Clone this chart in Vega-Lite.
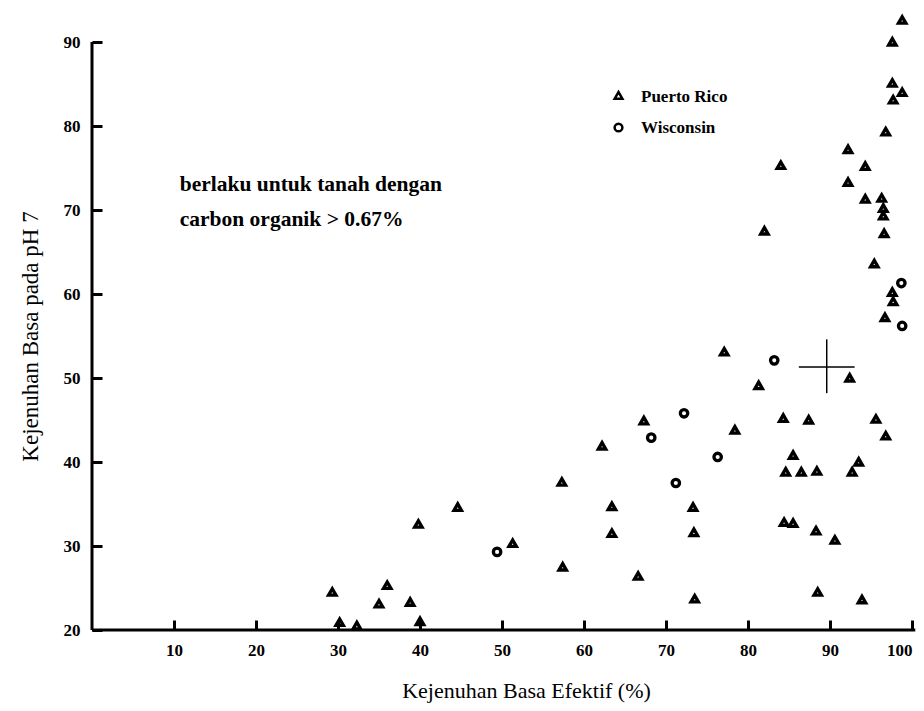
{
  "$schema": "https://vega.github.io/schema/vega-lite/v6.json",
  "width": 820,
  "height": 588,
  "autosize": {"type": "none"},
  "padding": {"left": 92, "top": 42, "right": 12, "bottom": 81},
  "background": "white",
  "config": {
    "view": {"stroke": null},
    "font": "Liberation Serif",
    "axis": {
      "grid": false,
      "domain": false,
      "ticks": true,
      "tickColor": "black",
      "tickWidth": 3,
      "tickSize": 10,
      "labelFont": "Liberation Serif",
      "labelFontWeight": "bold",
      "labelFontSize": 17,
      "labelColor": "black",
      "titleFont": "Liberation Serif",
      "titleFontWeight": "normal",
      "titleColor": "black"
    }
  },
  "layer": [
    {
      "data": {"values": [
        {"efektif": 98.8, "ph7": 92.5, "lokasi": "Puerto Rico"},
        {"efektif": 97.6, "ph7": 89.9, "lokasi": "Puerto Rico"},
        {"efektif": 97.6, "ph7": 85.0, "lokasi": "Puerto Rico"},
        {"efektif": 98.8, "ph7": 83.9, "lokasi": "Puerto Rico"},
        {"efektif": 97.7, "ph7": 83.0, "lokasi": "Puerto Rico"},
        {"efektif": 96.8, "ph7": 79.2, "lokasi": "Puerto Rico"},
        {"efektif": 92.2, "ph7": 77.1, "lokasi": "Puerto Rico"},
        {"efektif": 84.0, "ph7": 75.2, "lokasi": "Puerto Rico"},
        {"efektif": 94.3, "ph7": 75.1, "lokasi": "Puerto Rico"},
        {"efektif": 92.2, "ph7": 73.2, "lokasi": "Puerto Rico"},
        {"efektif": 94.3, "ph7": 71.2, "lokasi": "Puerto Rico"},
        {"efektif": 96.3, "ph7": 71.3, "lokasi": "Puerto Rico"},
        {"efektif": 96.5, "ph7": 70.1, "lokasi": "Puerto Rico"},
        {"efektif": 96.5, "ph7": 69.2, "lokasi": "Puerto Rico"},
        {"efektif": 82.0, "ph7": 67.4, "lokasi": "Puerto Rico"},
        {"efektif": 96.6, "ph7": 67.1, "lokasi": "Puerto Rico"},
        {"efektif": 95.4, "ph7": 63.5, "lokasi": "Puerto Rico"},
        {"efektif": 97.6, "ph7": 60.1, "lokasi": "Puerto Rico"},
        {"efektif": 97.7, "ph7": 59.0, "lokasi": "Puerto Rico"},
        {"efektif": 96.7, "ph7": 57.1, "lokasi": "Puerto Rico"},
        {"efektif": 77.1, "ph7": 53.0, "lokasi": "Puerto Rico"},
        {"efektif": 81.3, "ph7": 49.0, "lokasi": "Puerto Rico"},
        {"efektif": 92.4, "ph7": 49.9, "lokasi": "Puerto Rico"},
        {"efektif": 67.3, "ph7": 44.8, "lokasi": "Puerto Rico"},
        {"efektif": 78.4, "ph7": 43.7, "lokasi": "Puerto Rico"},
        {"efektif": 84.3, "ph7": 45.1, "lokasi": "Puerto Rico"},
        {"efektif": 87.4, "ph7": 44.9, "lokasi": "Puerto Rico"},
        {"efektif": 95.6, "ph7": 45.0, "lokasi": "Puerto Rico"},
        {"efektif": 96.8, "ph7": 43.0, "lokasi": "Puerto Rico"},
        {"efektif": 62.2, "ph7": 41.8, "lokasi": "Puerto Rico"},
        {"efektif": 85.5, "ph7": 40.7, "lokasi": "Puerto Rico"},
        {"efektif": 84.6, "ph7": 38.7, "lokasi": "Puerto Rico"},
        {"efektif": 86.5, "ph7": 38.7, "lokasi": "Puerto Rico"},
        {"efektif": 88.4, "ph7": 38.8, "lokasi": "Puerto Rico"},
        {"efektif": 93.5, "ph7": 39.9, "lokasi": "Puerto Rico"},
        {"efektif": 92.7, "ph7": 38.7, "lokasi": "Puerto Rico"},
        {"efektif": 63.4, "ph7": 34.6, "lokasi": "Puerto Rico"},
        {"efektif": 73.3, "ph7": 34.5, "lokasi": "Puerto Rico"},
        {"efektif": 63.4, "ph7": 31.4, "lokasi": "Puerto Rico"},
        {"efektif": 73.4, "ph7": 31.5, "lokasi": "Puerto Rico"},
        {"efektif": 84.4, "ph7": 32.7, "lokasi": "Puerto Rico"},
        {"efektif": 85.5, "ph7": 32.6, "lokasi": "Puerto Rico"},
        {"efektif": 88.3, "ph7": 31.7, "lokasi": "Puerto Rico"},
        {"efektif": 90.6, "ph7": 30.6, "lokasi": "Puerto Rico"},
        {"efektif": 66.6, "ph7": 26.3, "lokasi": "Puerto Rico"},
        {"efektif": 73.5, "ph7": 23.6, "lokasi": "Puerto Rico"},
        {"efektif": 88.5, "ph7": 24.4, "lokasi": "Puerto Rico"},
        {"efektif": 93.9, "ph7": 23.5, "lokasi": "Puerto Rico"},
        {"efektif": 57.3, "ph7": 37.5, "lokasi": "Puerto Rico"},
        {"efektif": 44.6, "ph7": 34.5, "lokasi": "Puerto Rico"},
        {"efektif": 39.8, "ph7": 32.5, "lokasi": "Puerto Rico"},
        {"efektif": 51.3, "ph7": 30.2, "lokasi": "Puerto Rico"},
        {"efektif": 57.4, "ph7": 27.4, "lokasi": "Puerto Rico"},
        {"efektif": 29.3, "ph7": 24.4, "lokasi": "Puerto Rico"},
        {"efektif": 36.0, "ph7": 25.2, "lokasi": "Puerto Rico"},
        {"efektif": 35.0, "ph7": 23.0, "lokasi": "Puerto Rico"},
        {"efektif": 38.8, "ph7": 23.2, "lokasi": "Puerto Rico"},
        {"efektif": 30.2, "ph7": 20.8, "lokasi": "Puerto Rico"},
        {"efektif": 32.3, "ph7": 20.4, "lokasi": "Puerto Rico"},
        {"efektif": 40.0, "ph7": 20.9, "lokasi": "Puerto Rico"},
        {"efektif": 98.7, "ph7": 61.3, "lokasi": "Wisconsin"},
        {"efektif": 98.8, "ph7": 56.2, "lokasi": "Wisconsin"},
        {"efektif": 83.2, "ph7": 52.1, "lokasi": "Wisconsin"},
        {"efektif": 72.2, "ph7": 45.8, "lokasi": "Wisconsin"},
        {"efektif": 68.2, "ph7": 42.9, "lokasi": "Wisconsin"},
        {"efektif": 76.3, "ph7": 40.6, "lokasi": "Wisconsin"},
        {"efektif": 71.2, "ph7": 37.5, "lokasi": "Wisconsin"},
        {"efektif": 49.4, "ph7": 29.3, "lokasi": "Wisconsin"}
      ]},
      "mark": {"type": "point", "filled": false, "strokeWidth": 3.3, "size": 55, "opacity": 1},
      "encoding": {
        "x": {
          "field": "efektif", "type": "quantitative",
          "scale": {"domain": [0, 100], "nice": false, "zero": false},
          "axis": {
            "values": [10, 20, 30, 40, 50, 60, 70, 80, 90, 100],
            "offset": -10,
            "labelPadding": 12,
            "title": "Kejenuhan Basa Efektif (%)",
            "titleFontSize": 22,
            "titleX": 434, "titleY": 70, "titleBaseline": "middle"
          }
        },
        "y": {
          "field": "ph7", "type": "quantitative",
          "scale": {"domain": [20, 90], "nice": false, "zero": false},
          "axis": {
            "values": [20, 30, 40, 50, 60, 70, 80, 90],
            "offset": -10,
            "labelPadding": 12,
            "title": "Kejenuhan Basa pada pH 7",
            "titleFontSize": 23,
            "titleX": -72, "titleY": 294, "titleAngle": -90, "titleBaseline": "middle"
          }
        },
        "shape": {
          "field": "lokasi", "type": "nominal",
          "scale": {"domain": ["Puerto Rico", "Wisconsin"], "range": ["triangle", "circle"]},
          "legend": {
            "title": null,
            "orient": "none",
            "legendX": 518,
            "legendY": 46,
            "labelFont": "Liberation Serif",
            "labelFontWeight": "bold",
            "labelFontSize": 17,
            "labelColor": "black",
            "symbolSize": 60,
            "symbolStrokeWidth": 2.5,
            "symbolStrokeColor": "black",
            "symbolFillColor": "transparent",
            "rowPadding": 13,
            "labelOffset": 14
          }
        },
        "color": {"value": "black"}
      }
    },
    {
      "data": {"values": [{}]},
      "mark": {"type": "rule", "color": "black", "strokeWidth": 3},
      "encoding": {
        "x": {"datum": 0, "type": "quantitative"},
        "x2": {"datum": 100.4},
        "y": {"datum": 20, "type": "quantitative"}
      }
    },
    {
      "data": {"values": [{}]},
      "mark": {"type": "rule", "color": "black", "strokeWidth": 3},
      "encoding": {
        "x": {"datum": 0, "type": "quantitative"},
        "y": {"datum": 20, "type": "quantitative"},
        "y2": {"datum": 90}
      }
    },
    {
      "data": {"values": [{"catatan": ["berlaku untuk tanah dengan", "carbon organik > 0.67%"]}]},
      "mark": {"type": "text", "align": "left", "baseline": "middle", "font": "Liberation Serif", "fontWeight": "bold", "fontSize": 21.5, "lineHeight": 35, "color": "black"},
      "encoding": {
        "x": {"datum": 10.7, "type": "quantitative"},
        "y": {"datum": 73.0, "type": "quantitative"},
        "text": {"field": "catatan"}
      }
    },
    {
      "data": {"values": [{}]},
      "mark": {"type": "rule", "color": "black", "strokeWidth": 1.5},
      "encoding": {
        "x": {"datum": 86.2, "type": "quantitative"},
        "x2": {"datum": 93.0},
        "y": {"datum": 51.3, "type": "quantitative"}
      }
    },
    {
      "data": {"values": [{}]},
      "mark": {"type": "rule", "color": "black", "strokeWidth": 1.5},
      "encoding": {
        "x": {"datum": 89.6, "type": "quantitative"},
        "y": {"datum": 48.2, "type": "quantitative"},
        "y2": {"datum": 54.6}
      }
    }
  ]
}
